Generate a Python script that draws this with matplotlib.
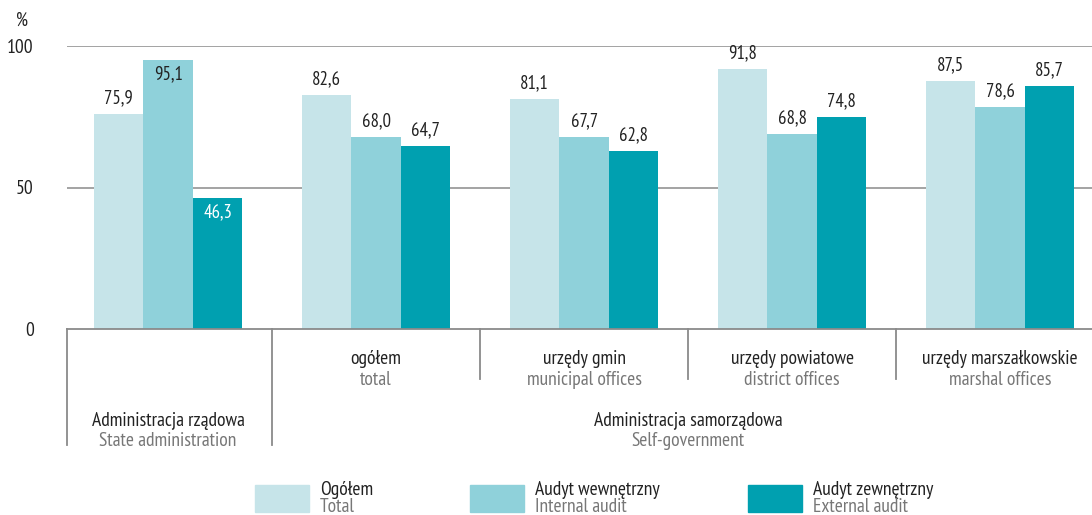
import matplotlib.pyplot as plt
from matplotlib.patches import Rectangle
from matplotlib import font_manager

# dane
groups_pl = ["", "ogółem", "urzędy gmin", "urzędy powiatowe", "urzędy marszałkowskie"]
groups_en = ["", "total", "municipal offices", "district offices", "marshal offices"]
ogolem = [75.9, 82.6, 81.1, 91.8, 87.5]
audyt_wew = [95.1, 68.0, 67.7, 68.8, 78.6]
audyt_zew = [46.3, 64.7, 62.8, 74.8, 85.7]
series_pl = ["Ogółem", "Audyt wewnętrzny", "Audyt zewnętrzny"]
series_en = ["Total", "Internal audit", "External audit"]
colors = ["#c6e4e9", "#8fd1da", "#00a0b0"]

names = {f.name for f in font_manager.fontManager.ttflist}
fam = "DejaVu Sans"
for cand in ["PT Sans Narrow", "Fira Sans Condensed", "Roboto Condensed",
             "Archivo Narrow", "Liberation Sans Narrow"]:
    if cand in names:
        fam = cand
        break
plt.rcParams["font.family"] = [fam, "DejaVu Sans"]
FS = 14
FV = 13.5
DARK = "#222222"
GREY = "#777777"

fig = plt.figure(figsize=(10.92, 5.15), dpi=100)
ax = fig.add_axes([67 / 1092, 1 - 329 / 515, 1 - 67 / 1092, (329 - 46) / 515])

w = 0.238
series = [ogolem, audyt_wew, audyt_zew]
for k, vals in enumerate(series):
    for i, v in enumerate(vals):
        x = i + (k - 1) * w
        ax.bar(x, v, width=w, color=colors[k], zorder=2)
        label = f"{v:.1f}".replace(".", ",")
        if v > 93:
            ax.text(x, v - 1.8, label, ha="center", va="top", fontsize=FV, color=DARK)
        elif v < 50:
            ax.text(x, v - 2, label, ha="center", va="top", fontsize=FV, color="white")
        else:
            ax.text(x, v + 2.4, label, ha="center", va="bottom", fontsize=FV, color=DARK)

XL = -0.486
ax.set_xlim(XL, 4.442)
ax.set_ylim(0, 100)
for y in (50, 100):
    ax.axhline(y, color="#8a8a8a", lw=1.1, zorder=1)
ax.axhline(0, color="#8a8a8a", lw=1.3, zorder=3, clip_on=False)

for s in ax.spines.values():
    s.set_visible(False)
ax.set_xticks([])
ax.set_yticks([0, 50, 100])
ax.set_yticklabels(["0", "50", "100"], fontsize=FS, color=DARK)
ax.tick_params(axis="y", length=0, pad=24)
ax.text(XL - 0.215, 109, "%", ha="center", va="center", fontsize=FV, color=DARK)

# linie podziału pod osią
for xs, y0 in [(XL, -41), (0.5, -41), (1.5, -17.5), (2.5, -17.5), (3.5, -17.5)]:
    ax.plot([xs, xs], [0, y0], color="#8a8a8a", lw=1.3, clip_on=False)

for i in range(1, 5):
    ax.text(i, -10.5, groups_pl[i], ha="center", va="center", fontsize=FS, color=DARK)
    ax.text(i, -18, groups_en[i], ha="center", va="center", fontsize=FS, color=GREY)

ax.text(0, -32.5, "Administracja rządowa", ha="center", va="center", fontsize=FS, color=DARK)
ax.text(0, -39.5, "State administration", ha="center", va="center", fontsize=FS, color=GREY)
ax.text(2.5, -32.5, "Administracja samorządowa", ha="center", va="center", fontsize=FS, color=DARK)
ax.text(2.5, -39.5, "Self-government", ha="center", va="center", fontsize=FS, color=GREY)

# legenda
leg_x = [255, 470, 748]
for k in range(3):
    x0 = leg_x[k]
    fig.patches.append(Rectangle((x0 / 1092, 1 - 512 / 515), 54 / 1092, 27 / 515,
                                 transform=fig.transFigure, color=colors[k]))
    fig.text((x0 + 65) / 1092, 1 - 490 / 515, series_pl[k], ha="left", va="center",
             fontsize=FS, color=DARK)
    fig.text((x0 + 65) / 1092, 1 - 507 / 515, series_en[k], ha="left", va="center",
             fontsize=FS, color=GREY)

fig.savefig("out.png", dpi=100)
